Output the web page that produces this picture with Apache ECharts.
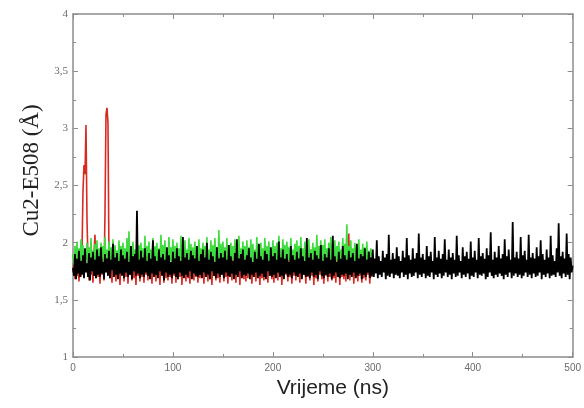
<!DOCTYPE html>
<html>
<head>
<meta charset="utf-8">
<script src="https://cdn.jsdelivr.net/npm/echarts@6/dist/echarts.min.js"></script>
<style>
  html, body { margin: 0; padding: 0; background: #fff; }
  #chart { width: 584px; height: 408px; }
</style>
</head>
<body>
<div id="chart"></div>
<script>
// time step between samples (ns)
const STEP = 1;

// Cu2-E508 distance, black run (0-500 ns)
const blackRun = [
  1.78,1.71,1.90,1.68,1.86,1.73,1.93,1.70,1.84,1.72,1.89,1.69,1.95,1.74,1.82,1.70,1.91,1.67,1.87,1.75,1.92,1.71,1.85,1.69,1.94,
  1.72,1.88,1.70,1.96,1.73,1.83,1.68,1.90,1.74,1.86,1.71,1.93,1.69,1.85,1.76,1.99,1.70,1.87,1.72,1.91,1.68,1.84,1.73,1.94,1.71,
  1.89,1.69,1.86,1.74,1.92,1.70,1.83,1.72,1.97,1.68,1.88,1.75,1.90,1.71,2.28,1.73,1.85,1.69,1.93,1.72,1.87,1.70,1.95,1.74,1.84,
  1.71,1.91,1.68,1.86,1.73,2.02,1.70,1.88,1.72,1.84,1.69,1.94,1.75,1.87,1.71,1.90,1.67,1.85,1.74,1.96,1.70,1.89,1.72,1.83,1.69,
  1.92,1.73,1.86,1.70,1.95,1.68,1.88,1.74,1.84,1.71,2.05,1.69,1.87,1.72,1.91,1.70,1.85,1.75,1.93,1.68,1.89,1.73,1.86,1.71,1.97,
  1.70,1.84,1.72,1.90,1.69,1.94,1.74,1.87,1.70,2.00,1.72,1.85,1.68,1.92,1.75,1.88,1.71,1.83,1.69,1.96,1.73,1.86,1.70,1.91,1.72,
  1.87,1.69,1.93,1.74,1.85,1.71,1.98,1.70,1.88,1.73,1.84,1.68,1.91,1.72,2.03,1.70,1.86,1.75,1.90,1.69,1.94,1.72,1.85,1.71,1.89,
  1.73,1.95,1.68,1.87,1.72,1.83,1.70,1.92,1.74,1.86,1.69,1.99,1.71,1.88,1.73,1.85,1.70,1.93,1.68,1.90,1.75,1.84,1.71,1.96,1.70,
  1.88,1.72,1.91,1.69,1.85,1.74,2.01,1.70,1.87,1.71,1.94,1.68,1.86,1.73,1.90,1.70,1.83,1.72,1.97,1.69,1.89,1.74,1.85,1.71,1.92,
  1.70,1.86,1.73,1.95,1.68,1.88,1.72,1.84,1.70,2.04,1.71,1.87,1.69,1.91,1.74,1.85,1.70,1.93,1.72,1.89,1.68,1.86,1.75,1.98,1.71,
  1.84,1.69,1.90,1.72,1.87,1.70,1.95,1.73,1.85,1.68,2.06,1.71,1.88,1.74,1.83,1.70,1.92,1.69,1.86,1.72,1.97,1.71,1.89,1.73,1.85,
  1.68,1.93,1.72,1.87,1.70,1.91,1.74,1.84,1.69,1.99,1.71,1.86,1.73,1.90,1.68,1.88,1.72,1.95,1.70,1.85,1.74,1.92,1.69,1.87,1.71,
  1.94,1.70,1.86,1.73,2.02,1.69,1.88,1.72,1.84,1.70,1.93,1.74,1.87,1.68,1.90,1.71,2.07,1.70,1.85,1.73,1.91,1.69,1.86,1.72,1.96,
  1.71,1.88,1.69,1.84,1.74,1.93,1.70,1.87,1.72,2.04,1.68,1.89,1.73,1.85,1.70,1.95,1.71,1.86,1.74,1.91,1.69,2.08,1.72,1.87,1.70,
  1.90,1.73,1.85,1.69,1.97,1.71,1.88,1.70,1.92,1.74,1.84,1.68,2.05,1.72,1.87,1.70,1.93,1.73,1.86,1.69,1.90,1.71,2.03,1.74,1.85,
  1.70,1.94,1.72,1.87,1.68,1.91,1.73,1.85,1.70,2.06,1.71,1.89,1.74,1.84,1.69,1.96,1.72,1.88,1.70,1.92,1.73,1.86,1.68,2.01,1.71,
  1.87,1.70,1.93,1.74,1.85,1.69,2.04,1.72,1.88,1.71,1.91,1.73,1.86,1.68,1.95,1.70,1.89,1.74,2.09,1.71,1.85,1.69,1.92,1.72,1.87,
  1.70,1.97,1.73,1.86,1.71,1.90,1.68,2.03,1.72,1.88,1.70,1.94,1.74,1.85,1.69,2.18,1.71,1.87,1.73,1.92,1.70,1.86,1.72,2.05,1.69,
  1.89,1.71,1.93,1.74,1.85,1.70,2.07,1.72,1.87,1.69,1.91,1.73,1.86,1.70,1.96,1.71,1.88,1.74,2.02,1.68,1.90,1.72,1.85,1.70,1.94,
  1.73,1.87,1.69,2.06,1.71,1.89,1.72,1.84,1.70,1.95,1.74,2.17,1.71,1.88,1.69,1.92,1.73,1.86,1.70,2.08,1.72,1.90,1.68,1.87,1.74,
  1.80
];

// green run (0-300 ns)
const greenRun = [
  1.90,1.80,1.97,1.83,2.01,1.79,1.95,1.84,2.03,1.81,1.98,1.78,1.94,1.85,2.00,1.82,1.96,1.79,2.04,1.83,1.93,1.80,1.99,1.84,2.02,
  1.81,1.95,1.78,2.00,1.85,1.97,1.80,2.05,1.83,1.94,1.79,2.01,1.84,1.96,1.81,2.03,1.78,1.98,1.85,1.93,1.80,2.02,1.82,1.97,1.79,
  2.00,1.84,1.95,1.81,2.04,1.78,2.10,1.83,1.96,1.80,2.01,1.85,1.94,1.79,2.03,1.82,1.98,1.84,2.00,1.80,1.95,1.83,2.06,1.78,1.97,
  1.83,2.01,1.80,1.94,1.85,2.04,1.79,1.97,1.82,2.00,1.78,1.95,1.84,2.07,1.81,1.98,1.80,2.02,1.83,1.93,1.79,2.05,1.84,1.96,1.80,
  2.03,1.82,1.97,1.79,2.00,1.84,1.95,1.81,2.06,1.78,1.98,1.83,2.02,1.80,1.94,1.85,2.04,1.79,1.99,1.82,1.96,1.80,2.01,1.84,1.97,
  1.79,2.03,1.83,1.95,1.80,2.00,1.85,1.97,1.78,2.05,1.82,1.94,1.81,2.02,1.84,1.98,1.79,2.04,1.83,1.96,1.80,2.11,1.82,1.99,1.78,
  2.01,1.84,1.96,1.80,2.04,1.82,1.94,1.79,2.00,1.85,1.97,1.81,2.03,1.78,1.98,1.83,2.06,1.80,1.95,1.84,2.01,1.79,1.97,1.82,2.02,
  1.80,1.96,1.84,2.03,1.79,1.99,1.82,1.94,1.81,2.05,1.78,1.98,1.85,2.00,1.80,1.95,1.83,2.04,1.79,1.97,1.82,2.01,1.84,1.94,1.80,
  2.02,1.83,1.97,1.79,2.00,1.84,2.06,1.81,1.95,1.80,2.03,1.82,1.98,1.78,2.01,1.85,1.96,1.80,2.04,1.83,1.94,1.79,1.99,1.84,2.02,
  1.81,1.97,1.80,2.05,1.83,1.95,1.78,2.01,1.84,1.98,1.80,2.03,1.82,1.94,1.79,2.00,1.85,1.96,1.81,2.07,1.80,1.97,1.83,2.02,1.79,
  1.98,1.82,2.03,1.80,1.95,1.84,2.00,1.79,2.05,1.83,1.96,1.81,2.02,1.78,1.97,1.85,2.01,1.80,1.94,1.83,2.04,1.79,1.99,1.82,2.16,
  1.81,1.97,1.84,2.02,1.80,1.95,1.83,2.00,1.79,1.98,1.82,2.03,1.80,1.94,1.84,1.99,1.81,1.96,1.78,2.01,1.83,1.93,1.80,1.95,1.82,
  1.88
];

// red run (0-300 ns), with the two early excursions
const redRun = [
  1.74,1.86,1.68,1.90,1.71,1.84,1.66,1.88,1.70,1.93,2.45,2.68,2.60,3.03,2.20,1.85,1.67,1.89,1.72,1.83,1.65,1.91,2.07,1.69,1.86,
  1.70,1.88,1.64,1.85,1.72,1.90,1.67,2.25,3.12,3.18,3.05,1.86,1.69,1.83,1.65,1.89,1.71,1.84,1.66,1.92,1.70,1.87,1.63,1.85,1.73,
  1.88,1.66,1.84,1.70,1.91,1.64,1.86,1.72,1.83,1.67,1.90,1.69,1.85,1.63,1.89,1.71,1.82,1.66,1.93,1.70,1.86,1.65,1.88,1.72,1.84,
  1.67,1.90,1.69,1.85,1.64,1.87,1.71,1.83,1.66,1.92,1.70,1.86,1.63,1.89,1.72,1.84,1.65,1.91,1.69,1.85,1.67,1.88,1.70,1.83,1.64,
  1.89,1.71,1.86,1.65,1.93,1.68,1.84,1.70,1.88,1.63,1.90,1.72,1.85,1.66,1.87,1.69,1.83,1.64,1.91,1.71,1.86,1.67,1.89,1.70,1.84,
  1.65,1.92,1.69,1.85,1.72,1.88,1.64,1.86,1.70,1.83,1.66,1.90,1.68,1.87,1.63,1.89,1.71,1.84,1.67,1.94,1.69,1.85,1.65,1.88,1.72,
  1.86,1.66,1.91,1.70,1.84,1.64,1.88,1.71,1.85,1.67,1.92,1.69,1.83,1.65,1.89,1.72,1.86,1.63,1.90,1.70,1.84,1.68,1.87,1.66,1.93,
  1.69,1.85,1.72,1.88,1.64,1.86,1.70,1.91,1.66,1.84,1.71,1.89,1.63,1.87,1.69,1.83,1.67,1.92,1.70,1.85,1.65,1.88,1.72,1.86,1.68,
  1.90,1.65,1.87,1.70,1.84,1.67,1.93,1.71,1.85,1.63,1.89,1.69,1.86,1.72,1.83,1.66,1.91,1.70,1.88,1.64,1.85,1.71,1.90,1.67,1.86,
  1.70,1.84,1.65,1.92,1.69,1.87,1.72,1.85,1.64,1.89,1.70,1.83,1.67,1.94,1.71,1.86,1.63,1.88,1.69,1.84,1.66,1.91,1.72,1.85,1.68,
  1.87,1.64,1.90,1.71,1.85,1.66,1.88,1.70,1.83,1.67,1.92,1.69,1.86,1.65,1.89,1.72,1.84,1.63,1.91,1.70,1.86,1.68,1.88,1.66,2.05,
  1.70,2.08,1.67,1.85,1.72,1.89,1.64,1.86,1.70,1.90,1.66,1.84,1.71,1.88,1.65,1.87,1.69,1.92,1.67,1.83,1.72,1.86,1.64,1.89,1.70,
  1.78
];

const toPairs = arr => arr.map((v, i) => [i * STEP, v]);

const axisCol = '#8c8c8c';
const labelCol = '#6a6a6a';

const chart = echarts.init(document.getElementById('chart'));

const frameAxis = (pos, isX) => ({
  type: 'value',
  position: pos,
  min: isX ? 0 : 1,
  max: isX ? 500 : 4,
  interval: isX ? 100 : 0.5,
  axisLine: { show: true, onZero: false, lineStyle: { color: axisCol, width: 1.5 } },
  axisTick: { show: true, inside: true, length: 5, lineStyle: { color: axisCol } },
  minorTick: { show: true, splitNumber: 2, length: 3, lineStyle: { color: axisCol } },
  axisLabel: { show: false },
  splitLine: { show: false }
});

chart.setOption({
  animation: false,
  backgroundColor: '#fff',
  grid: { left: 73, right: 10, top: 14, bottom: 51 },
  xAxis: [
    Object.assign(frameAxis('bottom', true), {
      name: 'Vrijeme (ns)',
      nameLocation: 'middle',
      nameGap: 17,
      nameTextStyle: { fontFamily: 'Liberation Sans', fontSize: 21, color: '#222', padding: [0, 0, 0, 20] },
      axisLabel: { show: true, fontFamily: 'Liberation Sans', fontSize: 10, color: labelCol, margin: 6 }
    }),
    frameAxis('top', true)
  ],
  yAxis: [
    Object.assign(frameAxis('left', false), {
      name: 'Cu2-E508 (Å)',
      nameLocation: 'middle',
      nameGap: 30,
      nameTextStyle: { fontFamily: 'Liberation Serif', fontSize: 23, color: '#222', padding: [0, 0, 0, 30] },
      axisLabel: {
        show: true, fontFamily: 'Liberation Serif', fontSize: 11, color: labelCol, margin: 5,
        formatter: v => String(v).replace('.', ',')
      }
    }),
    frameAxis('right', false)
  ],
  series: [
    { name: 'red', type: 'line', data: toPairs(redRun), showSymbol: false,
      lineStyle: { color: '#d92a22', width: 1.6 }, z: 2 },
    { name: 'green', type: 'line', data: toPairs(greenRun), showSymbol: false,
      lineStyle: { color: '#3fdc3f', width: 1.6 }, z: 3 },
    { name: 'black', type: 'line', data: toPairs(blackRun), showSymbol: false,
      lineStyle: { color: '#000', width: 1.8 }, z: 4 }
  ]
});
</script>
</body>
</html>
